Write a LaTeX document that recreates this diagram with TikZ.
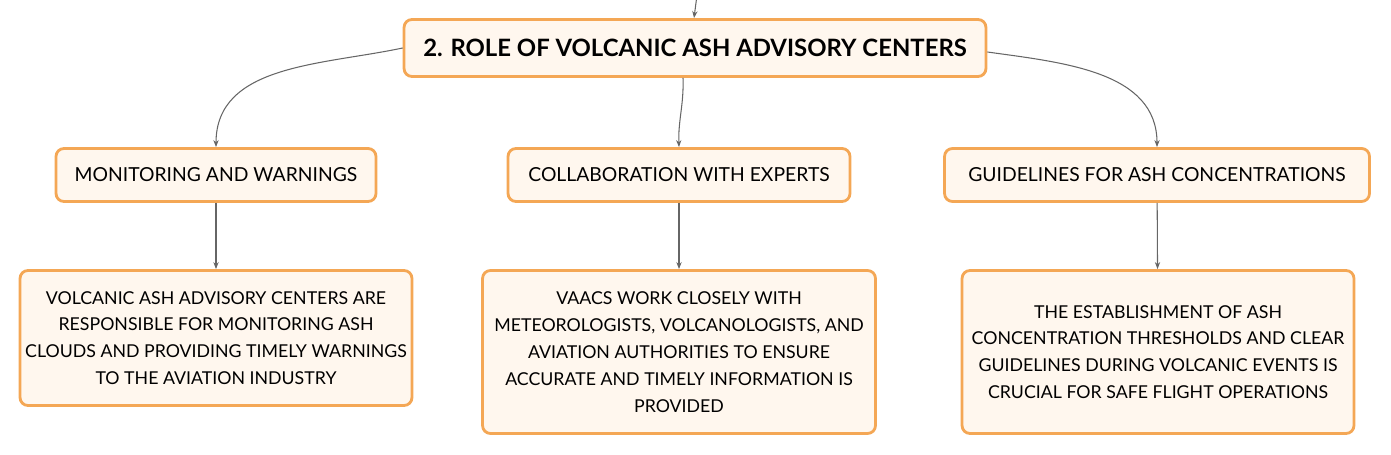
\documentclass[tikz,border=0pt]{standalone}
\usepackage{fontspec}
\setmainfont{Lato}
\usepackage{xcolor}
\usetikzlibrary{arrows.meta,positioning}
\definecolor{boxline}{HTML}{F4A755}
\definecolor{boxfill}{HTML}{FFF7EE}
\definecolor{edgegray}{HTML}{666666}
\tikzset{
  topicbox/.style={draw=boxline, fill=boxfill, line width=1.6pt, rounded corners=4.5pt,
    align=center, inner sep=0pt},
  subbox/.style={topicbox, font=\fontsize{11}{15.3}\selectfont, minimum height=1.06cm},
  textbox/.style={topicbox, font=\fontsize{10.1}{15.3}\selectfont},
  link/.style={draw=edgegray, line width=0.6pt, -{Stealth[length=4pt,width=3pt]}}
}
\begin{document}
\begin{tikzpicture}[x=0.02cm,y=0.02cm]
\useasboundingbox (0,0) rectangle (1391,455);

\node[topicbox, font=\fontsize{13.6}{16}\selectfont\bfseries, minimum width=11.64cm, minimum height=1.14cm]
  (title) at (695,407) {2. ROLE OF VOLCANIC ASH ADVISORY CENTERS};

\node[subbox, minimum width=6.4cm] (monitor) at (216,280) {MONITORING AND WARNINGS};
\node[subbox, minimum width=6.84cm] (collab) at (679,280) {COLLABORATION WITH EXPERTS};
\node[subbox, minimum width=8.5cm] (guide) at (1157,280) {GUIDELINES FOR ASH CONCENTRATIONS};

\node[textbox, minimum width=7.84cm, minimum height=2.7cm] (monitortxt) at (216,117)
  {VOLCANIC ASH ADVISORY CENTERS ARE\\RESPONSIBLE FOR MONITORING ASH\\CLOUDS AND PROVIDING TIMELY WARNINGS\\TO THE AVIATION INDUSTRY};
\node[textbox, minimum width=7.86cm, minimum height=3.26cm] (collabtxt) at (679,103)
  {VAACS WORK CLOSELY WITH\\METEOROLOGISTS, VOLCANOLOGISTS, AND\\AVIATION AUTHORITIES TO ENSURE\\ACCURATE AND TIMELY INFORMATION IS\\PROVIDED};
\node[textbox, minimum width=7.84cm, minimum height=3.26cm] (guidetxt) at (1158,103)
  {THE ESTABLISHMENT OF ASH\\CONCENTRATION THRESHOLDS AND CLEAR\\GUIDELINES DURING VOLCANIC EVENTS IS\\CRUCIAL FOR SAFE FLIGHT OPERATIONS};

\coordinate (parent) at (697,460);
\draw[link] (parent) -- (title.north -| 694,0);

\draw[link] (title.west) to[out=192,in=90] (monitor.north);
\draw[link] ([xshift=-12*0.02cm]title.south) to[out=-88,in=92] (collab.north);
\draw[link] ([yshift=-4*0.02cm]title.east) to[out=-8,in=90] (guide.north);

\draw[link] (monitor) -- (monitortxt);
\draw[link] (collab) -- (collabtxt);
\draw[link] (guide) -- (guidetxt);
\end{tikzpicture}
\end{document}
